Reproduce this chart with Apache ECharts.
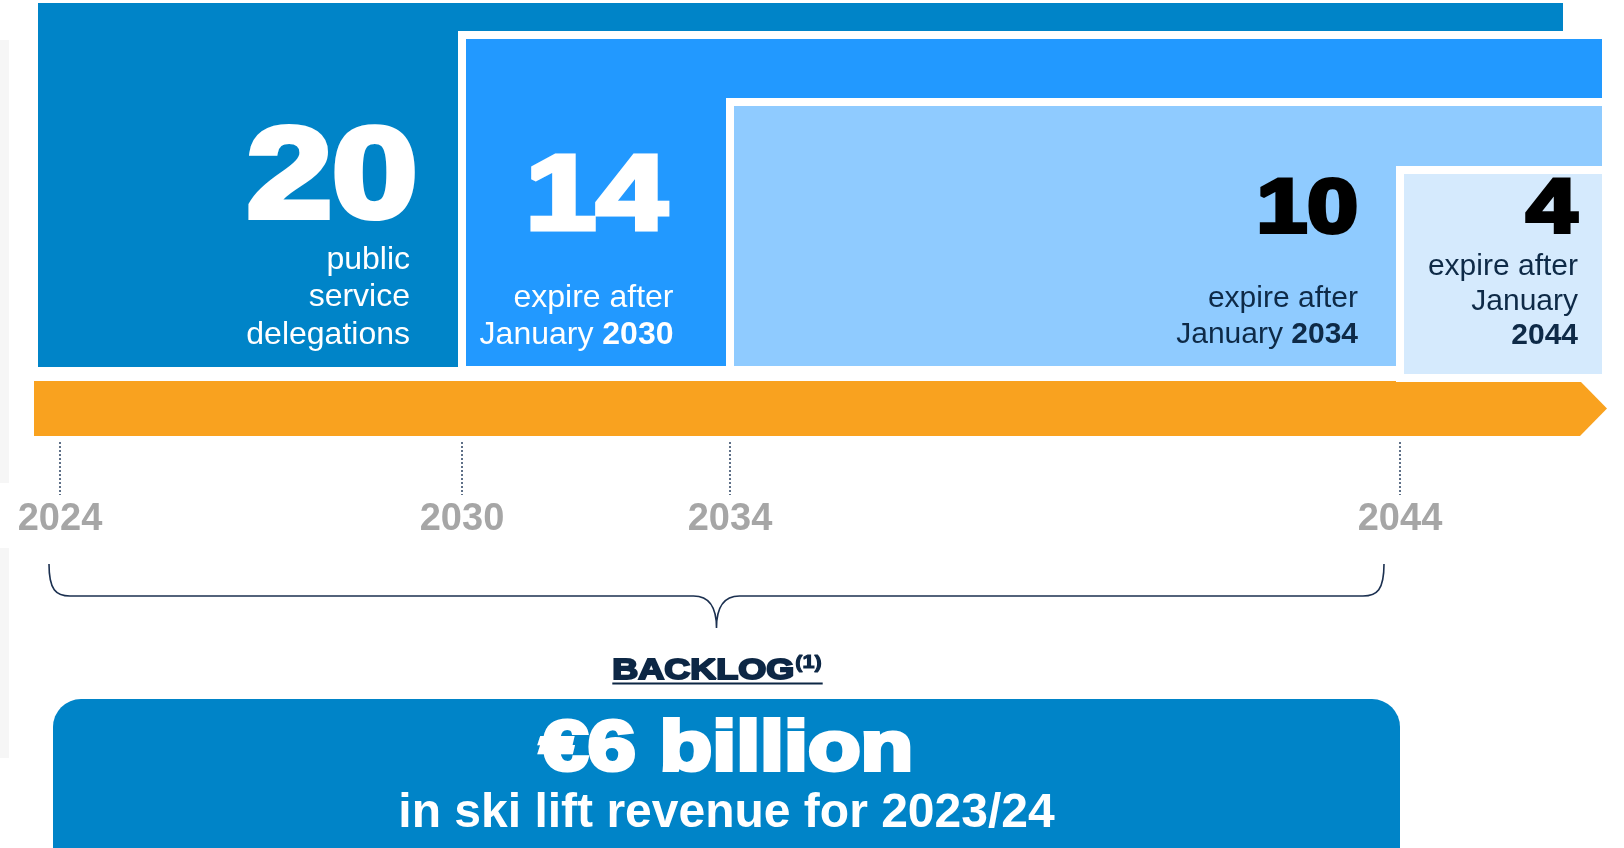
<!DOCTYPE html>
<html>
<head>
<meta charset="utf-8">
<script src="https://cdn.jsdelivr.net/npm/echarts@6/dist/echarts.min.js"></script>
<style>
  html, body { margin: 0; padding: 0; background: #ffffff; }
  #chart { width: 1624px; height: 848px; }
</style>
</head>
<body>
<div id="chart"></div>
<script>
// Concession contracts: how many run past each milestone year
const years = [2024, 2030, 2034, 2044];
const counts = [20, 14, 10, 4];
const captions = [
  ['public', 'service', 'delegations'],
  ['expire after', 'January {b|2030}'],
  ['expire after', 'January {b|2034}'],
  ['expire after', 'January', '{b|2044}']
];
const timelineEnd = 2047;
const backlogSpan = [2024, 2044];
const backlogTitle = 'BACKLOG';
const backlogNote = '(1)';
const backlogValue = '€6 billion';
const backlogDetail = 'in ski lift revenue for 2023/24';

const FONT = '"Liberation Sans", Arial, sans-serif';
const NAVY = '#0D2745';
const ORANGE = '#F9A21F';
const BOX_BLUE = '#0084C8';
const HEAVY_SCALE = 1.2;

// Look of each nested tier (pixel offsets from the plot top / tier edges)
const tierStyle = [
  { fill: '#0084C8', top: 0, bottom: 364, left: -22, right: -38, border: 0,
    numColor: '#FFFFFF', numSize: 128, numStroke: 6, numMid: 179, numPad: 44.5,
    capColor: '#FFFFFF', capSize: 32, capPad: 52, capLast: 332, capGap: 37.5 },
  { fill: '#2299FF', top: 32, bottom: 367, left: 0, right: 5, border: 8,
    numColor: '#FFFFFF', numSize: 106, numStroke: 5, numMid: 196.5, numPad: 63,
    capColor: '#FFFFFF', capSize: 32, capPad: 56.5, capLast: 332, capGap: 37 },
  { fill: '#8FCBFF', top: 99, bottom: 367, left: 0, right: 5, border: 8,
    numColor: '#000000', numSize: 76, numStroke: 4, numMid: 208.5, numPad: 42,
    capColor: '#0E2A47', capSize: 30, capPad: 42, capLast: 332, capGap: 36 },
  { fill: '#D5EAFD', top: 167, bottom: 375, left: 0, right: 5, border: 8,
    numColor: '#000000', numSize: 76, numStroke: 4, numMid: 208.5, numPad: 24,
    capColor: '#0E2A47', capSize: 30, capPad: 23, capLast: 333, capGap: 34.5 }
];

const measureCtx = document.createElement('canvas').getContext('2d');
function textWidth(text, size, weight) {
  measureCtx.font = weight + ' ' + size + 'px "Liberation Sans"';
  return measureCtx.measureText(text).width;
}

function heavyText(text, x, y, size, color, stroke, align, scale) {
  return {
    type: 'text', x: x, y: y, scaleX: scale || HEAVY_SCALE,
    style: {
      text: text, fontFamily: FONT, fontWeight: 'bold', fontSize: size,
      fill: color, stroke: color, lineWidth: stroke, lineJoin: 'round',
      align: align, verticalAlign: 'middle'
    }
  };
}

function renderTier(params, api) {
  const i = params.dataIndex;
  const s = tierStyle[i];
  const cs = params.coordSys;
  const xStart = api.coord([api.value(0), 0])[0];
  const xEnd = api.coord([timelineEnd, 0])[0];
  const xNext = i + 1 < years.length ? api.coord([years[i + 1], 0])[0] : xEnd;
  const left = xStart + s.left;
  const right = xEnd + s.right;
  const top = cs.y + s.top;
  const bottom = cs.y + s.bottom;
  const rectStyle = { fill: s.fill };
  if (s.border) { rectStyle.stroke = '#FFFFFF'; rectStyle.lineWidth = s.border; }
  const children = [
    { type: 'rect', shape: { x: left, y: top, width: right - left, height: bottom - top }, style: rectStyle },
    heavyText(String(api.value(1)), xNext - s.numPad, cs.y + s.numMid, s.numSize, s.numColor, s.numStroke, 'right')
  ];
  const lines = captions[i];
  lines.forEach(function (line, k) {
    children.push({
      type: 'text',
      x: xNext - s.capPad,
      y: cs.y + s.capLast - (lines.length - 1 - k) * s.capGap,
      style: {
        text: line, fontFamily: FONT, fontSize: s.capSize, fill: s.capColor,
        align: 'right', verticalAlign: 'middle',
        rich: { b: { fontFamily: FONT, fontSize: s.capSize, fontWeight: 'bold', fill: s.capColor } }
      }
    });
  });
  return { type: 'group', children: children };
}

function renderArrow(params, api) {
  const cs = params.coordSys;
  const x0 = api.coord([api.value(0), 0])[0] - 26;
  const tip = api.coord([api.value(1), 0])[0] + 6;
  const top = cs.y + 378, bottom = cs.y + 433, mid = (top + bottom) / 2;
  const head = 27;
  return {
    type: 'polygon',
    shape: { points: [[x0, top], [tip - head, top], [tip, mid], [tip - head, bottom], [x0, bottom]] },
    style: { fill: ORANGE }
  };
}

function renderBacklog(params, api) {
  const cs = params.coordSys;
  const axisY = cs.y + cs.height;
  const x0 = api.coord([api.value(0), 0])[0];
  const x1 = api.coord([api.value(1), 0])[0];
  const bl = x0 - 11, br = x1 - 16, mid = (bl + br) / 2;
  const yTop = axisY + 122, yLine = axisY + 154, yTip = axisY + 186;
  const brace = 'M' + bl + ',' + yTop +
    ' C' + bl + ',' + (yLine - 6) + ' ' + (bl + 7) + ',' + yLine + ' ' + (bl + 21) + ',' + yLine +
    ' L' + (mid - 23) + ',' + yLine +
    ' C' + (mid - 10) + ',' + yLine + ' ' + mid + ',' + (yLine + 8) + ' ' + mid + ',' + yTip +
    ' C' + mid + ',' + (yLine + 8) + ' ' + (mid + 10) + ',' + yLine + ' ' + (mid + 23) + ',' + yLine +
    ' L' + (br - 21) + ',' + yLine +
    ' C' + (br - 7) + ',' + yLine + ' ' + br + ',' + (yLine - 6) + ' ' + br + ',' + yTop;

  const titleSize = 30, noteSize = 18;
  const wTitle = textWidth(backlogTitle, titleSize, 'bold') * HEAVY_SCALE;
  const wNote = textWidth(backlogNote, noteSize, 'bold') * HEAVY_SCALE;
  const titleLeft = mid - (wTitle + wNote) / 2;

  const boxLeft = x0 - 7, boxRight = x1, boxTop = axisY + 257;
  const boxMid = (boxLeft + boxRight) / 2;

  return {
    type: 'group',
    children: [
      { type: 'path', shape: { pathData: brace }, style: { fill: 'none', stroke: '#1B3050', lineWidth: 1.6 } },
      heavyText(backlogTitle, titleLeft, axisY + 229, titleSize, NAVY, 2, 'left'),
      heavyText(backlogNote, titleLeft + wTitle + 1, axisY + 221, noteSize, NAVY, 1, 'left'),
      { type: 'line', shape: { x1: titleLeft, y1: axisY + 241.5, x2: titleLeft + wTitle + wNote + 2, y2: axisY + 241.5 },
        style: { stroke: NAVY, lineWidth: 2 } },
      { type: 'rect', shape: { x: boxLeft, y: boxTop, width: boxRight - boxLeft, height: 200, r: 28 },
        style: { fill: BOX_BLUE } },
      heavyText(backlogValue, boxMid, axisY + 308.5, 70, '#FFFFFF', 4, 'center', 1.23),
      { type: 'text', x: boxMid, y: axisY + 371.5,
        style: { text: backlogDetail, fontFamily: FONT, fontWeight: 'bold', fontSize: 48, fill: '#FFFFFF',
                 align: 'center', verticalAlign: 'middle' } }
    ]
  };
}

const chart = echarts.init(document.getElementById('chart'), null, { renderer: 'canvas' });
chart.setOption({
  animation: false,
  backgroundColor: '#FFFFFF',
  graphic: [
    // faint page-edge shading on the left
    { type: 'rect', left: 0, top: 40, shape: { width: 9, height: 443 }, style: { fill: '#F6F6F6' }, silent: true },
    { type: 'rect', left: 0, top: 548, shape: { width: 9, height: 210 }, style: { fill: '#F6F6F6' }, silent: true }
  ],
  grid: { left: 60, right: 23, top: 3, bottom: 406 },
  xAxis: {
    type: 'value', min: years[0], max: timelineEnd,
    axisLine: { show: false },
    splitLine: { show: false },
    axisTick: {
      show: true, customValues: years, length: 53, inside: false,
      lineStyle: { color: '#2A4262', width: 1.5, type: [2, 2] }
    },
    axisLabel: {
      customValues: years, margin: 78, verticalAlign: 'middle',
      formatter: function (v) { return String(v); },
      color: '#A6A6A6', fontSize: 38, fontWeight: 'bold', fontFamily: FONT
    }
  },
  yAxis: { type: 'value', min: 0, max: 1, show: false },
  series: [
    {
      type: 'custom', name: 'timeline', z: 1, silent: true,
      renderItem: renderArrow,
      data: [[years[0], timelineEnd]]
    },
    {
      type: 'custom', name: 'contracts', z: 2, silent: true,
      renderItem: renderTier,
      encode: { x: 0 },
      data: years.map(function (y, i) { return [y, counts[i]]; })
    },
    {
      type: 'custom', name: 'backlog', z: 2, silent: true,
      renderItem: renderBacklog,
      data: [backlogSpan]
    }
  ]
});
</script>
</body>
</html>
